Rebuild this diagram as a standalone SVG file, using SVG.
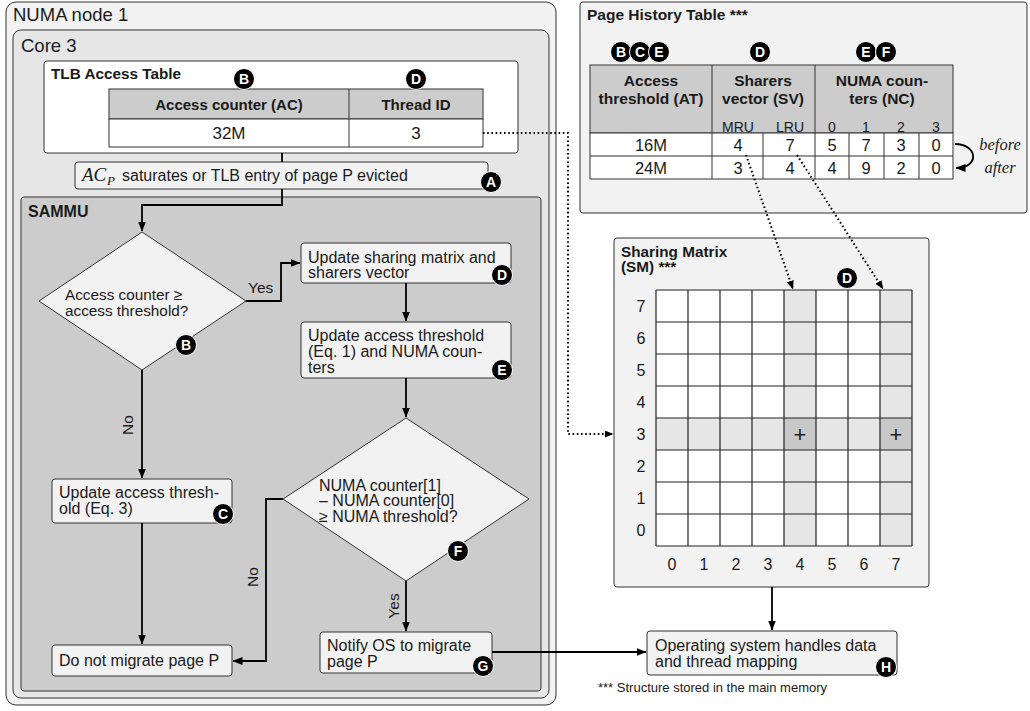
<svg xmlns="http://www.w3.org/2000/svg" width="1030" height="711" viewBox="0 0 1030 711">
<defs>
<marker id="ah" viewBox="0 0 10 8" markerWidth="10" markerHeight="8" refX="9.5" refY="4" orient="auto" markerUnits="userSpaceOnUse"><path d="M0,0 L10,4 L0,8 z" fill="#000"/></marker>
<marker id="ahs" viewBox="0 0 10 8" markerWidth="9" markerHeight="7" refX="9.5" refY="4" orient="auto" markerUnits="userSpaceOnUse"><path d="M0,0 L10,4 L0,8 z" fill="#000"/></marker>
</defs>
<style>
text{font-family:"Liberation Sans",Arial,sans-serif;fill:#1a1a1a}
.b{font-weight:bold}
.m{text-anchor:middle}
.f16{font-size:16px}
.box{fill:#f2f2f2;stroke:#333;stroke-width:1}
.ln{fill:none;stroke:#000;stroke-width:1.8}
.dot{fill:none;stroke:#000;stroke-width:2;stroke-dasharray:1.6 2.6}
.bd circle{fill:#000;stroke:#fff;stroke-width:1}
.bd text{fill:#fff;font-weight:bold;font-size:14px;text-anchor:middle}
.math{font-family:"Liberation Serif","Times New Roman",serif;font-style:italic}
</style>

<g id="numa-node-1">
<rect x="6" y="2" width="550" height="703" rx="10" fill="#f2f2f2" stroke="#333" stroke-width="1"/>
<text x="13" y="21" font-size="18.5">NUMA node 1</text>
</g>
<g id="core-3">
<rect x="13" y="30" width="536" height="668" rx="8" fill="#e6e6e6" stroke="#333" stroke-width="1"/>
<text x="21" y="52" font-size="18.5">Core 3</text>
</g>

<g id="tlb-access-table">
<rect x="44" y="61" width="474" height="92" rx="3" fill="#fff" stroke="#333" stroke-width="1"/>
<text x="51" y="79" class="b" font-size="15.3">TLB Access Table</text>
<rect x="109" y="89" width="374" height="30" fill="#ccc" stroke="#333" stroke-width="1"/>
<rect x="109" y="119" width="374" height="28" fill="#fff" stroke="#333" stroke-width="1"/>
<line x1="349" y1="89" x2="349" y2="147" stroke="#333" stroke-width="1"/>
<text x="229" y="109.5" class="b m" font-size="15">Access counter (AC)</text>
<text x="416" y="109.5" class="b m" font-size="15">Thread ID</text>
<text x="229" y="139" class="m" font-size="17">32M</text>
<text x="416" y="139" class="m" font-size="17">3</text>
<g class="bd"><circle cx="244" cy="79" r="10.5"/><text x="244" y="84">B</text></g>
<g class="bd"><circle cx="416" cy="79" r="10.5"/><text x="416" y="84">D</text></g>
</g>

<g id="trigger-a">
<rect x="75" y="162" width="413" height="27" rx="3" class="box"/>
<text x="82" y="181" class="math" font-size="19">AC</text>
<text x="107" y="184.5" class="math" font-size="13">P</text>
<text x="122" y="181" class="f16">saturates or TLB entry of page P evicted</text>
<g class="bd"><circle cx="491" cy="182" r="10.5"/><text x="491" y="187">A</text></g>
</g>

<g id="sammu">
<rect x="21" y="197" width="520" height="494" rx="3" fill="#ccc" stroke="#333" stroke-width="1"/>
<text x="28" y="217" class="b" font-size="16">SAMMU</text>
</g>

<g id="decision-b">
<polygon points="142,232 246,301 142,370 39,301" class="box"/>
<text x="65" y="299.5" font-size="15.3">Access counter ≥</text>
<text x="65" y="316" font-size="15.3">access threshold?</text>
<g class="bd"><circle cx="186" cy="345" r="10.5"/><text x="186" y="350">B</text></g>
</g>

<g id="update-sm-d">
<rect x="301" y="243" width="210" height="40" rx="3" class="box"/>
<text x="308" y="262.5" class="f16">Update sharing matrix and</text>
<text x="308" y="278" class="f16">sharers vector</text>
<g class="bd"><circle cx="502" cy="275" r="10.5"/><text x="502" y="280">D</text></g>
</g>

<g id="update-at-e">
<rect x="301" y="322" width="210" height="56" rx="3" class="box"/>
<text x="308" y="340.5" class="f16">Update access threshold</text>
<text x="308" y="356.5" class="f16">(Eq. 1) and NUMA coun-</text>
<text x="308" y="372.5" class="f16">ters</text>
<g class="bd"><circle cx="502" cy="370" r="10.5"/><text x="502" y="375">E</text></g>
</g>

<g id="decision-f">
<polygon points="406,418 529,499 406,581 283,499" class="box"/>
<text x="319" y="490.5" class="f16">NUMA counter[1]</text>
<text x="319" y="506" class="f16">– NUMA counter[0]</text>
<text x="319" y="521.5" class="f16">≥ NUMA threshold?</text>
<g class="bd"><circle cx="458" cy="551" r="10.5"/><text x="458" y="556">F</text></g>
</g>

<g id="update-at-c">
<rect x="52" y="479" width="180" height="44" rx="3" class="box"/>
<text x="59" y="497.5" class="f16">Update access thresh-</text>
<text x="59" y="514" class="f16">old (Eq. 3)</text>
<g class="bd"><circle cx="223" cy="514" r="10.5"/><text x="223" y="519">C</text></g>
</g>

<g id="do-not-migrate">
<rect x="52" y="645" width="180" height="31" rx="3" class="box"/>
<text x="59" y="666" class="f16">Do not migrate page P</text>
</g>

<g id="notify-os-g">
<rect x="320" y="632" width="172" height="41" rx="3" class="box"/>
<text x="327" y="650.5" class="f16">Notify OS to migrate</text>
<text x="327" y="667" class="f16">page P</text>
<g class="bd"><circle cx="483" cy="666" r="10.5"/><text x="483" y="671">G</text></g>
</g>

<g id="page-history-table">
<rect x="580" y="2" width="447" height="211" rx="3" fill="#f2f2f2" stroke="#333" stroke-width="1"/>
<text x="587" y="20" class="b" font-size="15.5">Page History Table ***</text>
<g class="bd"><circle cx="621" cy="52" r="10.5"/><text x="621" y="57">B</text></g>
<g class="bd"><circle cx="640" cy="52" r="10.5"/><text x="640" y="57">C</text></g>
<g class="bd"><circle cx="659" cy="52" r="10.5"/><text x="659" y="57">E</text></g>
<g class="bd"><circle cx="760" cy="52" r="10.5"/><text x="760" y="57">D</text></g>
<g class="bd"><circle cx="866" cy="52" r="10.5"/><text x="866" y="57">E</text></g>
<g class="bd"><circle cx="886" cy="52" r="10.5"/><text x="886" y="57">F</text></g>
<rect x="590" y="65" width="363" height="68" fill="#ccc" stroke="#333" stroke-width="1"/>
<rect x="590" y="133" width="363" height="46" fill="#fff" stroke="#333" stroke-width="1"/>
<g stroke="#333" stroke-width="1">
<line x1="590" y1="156" x2="953" y2="156"/>
<line x1="712" y1="65" x2="712" y2="179"/>
<line x1="815" y1="65" x2="815" y2="179"/>
<line x1="763" y1="133" x2="763" y2="179"/>
<line x1="849" y1="133" x2="849" y2="179"/>
<line x1="884" y1="133" x2="884" y2="179"/>
<line x1="919" y1="133" x2="919" y2="179"/>
</g>
<text x="651" y="86" class="b m" font-size="15.5">Access</text>
<text x="651" y="104" class="b m" font-size="15.5">threshold (AT)</text>
<text x="763" y="86" class="b m" font-size="15.5">Sharers</text>
<text x="763" y="104" class="b m" font-size="15.5">vector (SV)</text>
<text x="882" y="86" class="b m" font-size="15.5">NUMA coun-</text>
<text x="882" y="104" class="b m" font-size="15.5">ters (NC)</text>
<text x="738" y="131.5" class="m" font-size="14">MRU</text>
<text x="790" y="131.5" class="m" font-size="14">LRU</text>
<text x="832" y="131.5" class="m" font-size="14">0</text>
<text x="866" y="131.5" class="m" font-size="14">1</text>
<text x="901" y="131.5" class="m" font-size="14">2</text>
<text x="936" y="131.5" class="m" font-size="14">3</text>
<text x="651" y="151" class="m" font-size="16.5">16M</text>
<text x="738" y="151" class="m" font-size="16.5">4</text>
<text x="790" y="151" class="m" font-size="16.5">7</text>
<text x="832" y="151" class="m" font-size="16.5">5</text>
<text x="866" y="151" class="m" font-size="16.5">7</text>
<text x="901" y="151" class="m" font-size="16.5">3</text>
<text x="936" y="151" class="m" font-size="16.5">0</text>
<text x="651" y="174" class="m" font-size="16.5">24M</text>
<text x="738" y="174" class="m" font-size="16.5">3</text>
<text x="790" y="174" class="m" font-size="16.5">4</text>
<text x="832" y="174" class="m" font-size="16.5">4</text>
<text x="866" y="174" class="m" font-size="16.5">9</text>
<text x="901" y="174" class="m" font-size="16.5">2</text>
<text x="936" y="174" class="m" font-size="16.5">0</text>
<text x="1000" y="150" class="math m" font-size="16.5">before</text>
<text x="1000" y="173" class="math m" font-size="16.5">after</text>
</g>

<g id="sharing-matrix">
<rect x="614" y="238" width="315" height="349" rx="3" fill="#f2f2f2" stroke="#333" stroke-width="1"/>
<text x="621" y="256.5" class="b" font-size="15.3">Sharing Matrix</text>
<text x="621" y="272" class="b" font-size="15.3">(SM) ***</text>
<g class="bd"><circle cx="847" cy="278" r="10.5"/><text x="847" y="283">D</text></g>
<rect x="656" y="290" width="256" height="256" fill="#fff"/>
<rect x="784" y="290" width="32" height="256" fill="#e6e6e6"/>
<rect x="880" y="290" width="32" height="256" fill="#e6e6e6"/>
<rect x="656" y="418" width="256" height="32" fill="#e6e6e6"/>
<rect x="784" y="418" width="32" height="32" fill="#c8c8c8"/>
<rect x="880" y="418" width="32" height="32" fill="#c8c8c8"/>
<g stroke="#222" stroke-width="1.2">
<line x1="656" y1="290" x2="656" y2="546"/><line x1="688" y1="290" x2="688" y2="546"/>
<line x1="720" y1="290" x2="720" y2="546"/><line x1="752" y1="290" x2="752" y2="546"/>
<line x1="784" y1="290" x2="784" y2="546"/><line x1="816" y1="290" x2="816" y2="546"/>
<line x1="848" y1="290" x2="848" y2="546"/><line x1="880" y1="290" x2="880" y2="546"/>
<line x1="912" y1="290" x2="912" y2="546"/>
<line x1="656" y1="290" x2="912" y2="290"/><line x1="656" y1="322" x2="912" y2="322"/>
<line x1="656" y1="354" x2="912" y2="354"/><line x1="656" y1="386" x2="912" y2="386"/>
<line x1="656" y1="418" x2="912" y2="418"/><line x1="656" y1="450" x2="912" y2="450"/>
<line x1="656" y1="482" x2="912" y2="482"/><line x1="656" y1="514" x2="912" y2="514"/>
<line x1="656" y1="546" x2="912" y2="546"/>
</g>
<text x="800" y="441.5" class="m" font-size="22">+</text>
<text x="896" y="441.5" class="m" font-size="22">+</text>
<text x="641" y="312" class="m f16">7</text>
<text x="641" y="344" class="m f16">6</text>
<text x="641" y="376" class="m f16">5</text>
<text x="641" y="408" class="m f16">4</text>
<text x="641" y="440" class="m f16">3</text>
<text x="641" y="472" class="m f16">2</text>
<text x="641" y="504" class="m f16">1</text>
<text x="641" y="536" class="m f16">0</text>
<text x="672" y="570" class="m f16">0</text>
<text x="704" y="570" class="m f16">1</text>
<text x="736" y="570" class="m f16">2</text>
<text x="768" y="570" class="m f16">3</text>
<text x="800" y="570" class="m f16">4</text>
<text x="832" y="570" class="m f16">5</text>
<text x="864" y="570" class="m f16">6</text>
<text x="896" y="570" class="m f16">7</text>
</g>

<g id="os-handles-h">
<rect x="647" y="631" width="250" height="44" rx="3" class="box"/>
<text x="655" y="650.5" class="f16">Operating system handles data</text>
<text x="655" y="666.5" class="f16">and thread mapping</text>
<g class="bd"><circle cx="886" cy="667" r="10.5"/><text x="886" y="672">H</text></g>
</g>

<g id="footnote">
<text x="598" y="692" font-size="13">*** Structure stored in the main memory</text>
</g>

<g id="connectors">
<path d="M282,153 V162" class="ln"/>
<path d="M282,189 V205 H142 V231" class="ln" marker-end="url(#ah)"/>
<path d="M246,301 H281 V263 H300" class="ln" marker-end="url(#ah)"/>
<text x="248" y="292.5" font-size="15.5">Yes</text>
<path d="M142,370 V478" class="ln" marker-end="url(#ah)"/>
<text transform="translate(133,425) rotate(-90)" class="m" font-size="15.5">No</text>
<path d="M406,283 V321" class="ln" marker-end="url(#ah)"/>
<path d="M406,378 V417" class="ln" marker-end="url(#ah)"/>
<path d="M283,499 H266 V661 H233" class="ln" marker-end="url(#ah)"/>
<text transform="translate(258,577) rotate(-90)" class="m" font-size="15.5">No</text>
<path d="M406,581 V631" class="ln" marker-end="url(#ah)"/>
<text transform="translate(399,606) rotate(-90)" class="m" font-size="15.5">Yes</text>
<path d="M142,523 V644" class="ln" marker-end="url(#ah)"/>
<path d="M492,652 H646" class="ln" marker-end="url(#ah)"/>
<path d="M772,587 V630" class="ln" marker-end="url(#ah)"/>
<path d="M955,144 C978,144 980,168 956,168" class="ln" marker-end="url(#ah)"/>
<path d="M483,133 H568 V434 H613" class="dot" marker-end="url(#ahs)"/>
<path d="M746,155 L793,289" class="dot" marker-end="url(#ahs)"/>
<path d="M797,155 L883,289" class="dot" marker-end="url(#ahs)"/>
</g>
</svg>
